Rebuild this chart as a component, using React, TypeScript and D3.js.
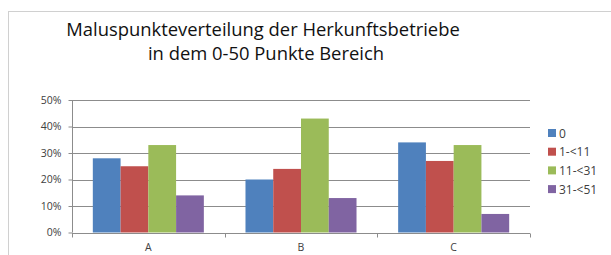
import React, { useEffect, useRef } from 'react';
import * as d3 from 'd3';

const categories = ['A', 'B', 'C'];
const seriesNames = ['0', '1-<11', '11-<31', '31-<51'];
const values = [
  [28, 25, 33, 14], // A
  [20, 24, 43, 13], // B
  [34, 27, 33, 7],  // C
];
const yTicks = [0, 10, 20, 30, 40, 50];
const colors = ['#4F81BD', '#C0504D', '#9BBB59', '#8064A2'];

const width = 611;
const height = 255;
const font = "'Open Sans', 'Noto Sans', sans-serif";

function App() {
  const ref = useRef<SVGSVGElement>(null);

  useEffect(() => {
    const svg = d3.select(ref.current);
    svg.selectAll('*').remove();

    // frame
    svg.append('rect').attr('width', width).attr('height', height).attr('fill', '#fff');
    svg.append('rect')
      .attr('x', 8.5).attr('y', 11.5)
      .attr('width', width + 10).attr('height', height + 10)
      .attr('fill', '#fff').attr('stroke', '#d0d0d0');

    const title = svg.append('text')
      .attr('text-anchor', 'middle')
      .attr('font-family', font)
      .attr('font-size', 18.4)
      .attr('fill', '#111');
    title.append('tspan').attr('x', 263).attr('y', 36).text('Maluspunkteverteilung der Herkunftsbetriebe');
    title.append('tspan').attr('x', 266).attr('y', 60).text('in dem 0-50 Punkte Bereich');

    const left = 72, right = 530, top = 100, bottom = 232.5;

    const x = d3.scaleBand().domain(categories).range([left, right]);
    // Excel gap width 150%: bar = band / (4 + 1.5)
    const bw = x.bandwidth() / 5.5;
    const x1 = d3.scaleBand().domain(seriesNames)
      .range([bw * 0.75, bw * 0.75 + bw * 4]).padding(0);

    const y = d3.scaleLinear().domain([0, 50]).range([bottom, top]);

    // gridlines
    svg.append('g')
      .selectAll('line')
      .data(yTicks.slice(1))
      .join('line')
      .attr('x1', left).attr('x2', right)
      .attr('y1', d => Math.round(y(d)) + 0.5).attr('y2', d => Math.round(y(d)) + 0.5)
      .attr('stroke', '#8c8c8c').attr('stroke-width', 1);

    // bars
    svg.append('g')
      .selectAll('g')
      .data(values)
      .join('g')
      .attr('transform', (d, i) => `translate(${x(categories[i])},0)`)
      .selectAll('rect')
      .data(d => d.map((v, j) => ({ v, j })))
      .join('rect')
      .attr('x', d => x1(seriesNames[d.j])!)
      .attr('width', x1.bandwidth())
      .attr('y', d => y(d.v))
      .attr('height', d => y(0) - y(d.v))
      .attr('fill', d => colors[d.j]);

    // y axis
    const yAxis = svg.append('g')
      .attr('transform', `translate(${left + 0.5},0)`)
      .call(d3.axisLeft(y).tickValues(yTicks).tickSize(4).tickFormat(d => `${d}%`));
    yAxis.select('.domain').attr('stroke', '#8c8c8c').attr('d', `M0,${top}V${bottom}`);
    yAxis.selectAll('.tick line').attr('stroke', '#8c8c8c');
    yAxis.selectAll('.tick text')
      .attr('font-family', font).attr('font-size', 10.5).attr('fill', '#404040').attr('x', -11);

    // x axis
    const xAxis = svg.append('g').attr('transform', `translate(0,${Math.round(bottom) + 0.5})`);
    xAxis.append('line').attr('x1', left).attr('x2', right).attr('stroke', '#8c8c8c');
    xAxis.selectAll('line.tk')
      .data([...categories.map(c => x(c)!), right])
      .join('line')
      .attr('class', 'tk')
      .attr('x1', d => Math.round(d) + 0.5).attr('x2', d => Math.round(d) + 0.5)
      .attr('y1', 0).attr('y2', 4)
      .attr('stroke', '#8c8c8c');
    xAxis.selectAll('text')
      .data(categories)
      .join('text')
      .attr('x', d => x(d)! + x.bandwidth() / 2)
      .attr('y', 17.5)
      .attr('text-anchor', 'middle')
      .attr('font-family', font).attr('font-size', 10.5).attr('fill', '#404040')
      .text(d => d);

    // legend
    const legend = svg.append('g')
      .selectAll('g')
      .data(seriesNames)
      .join('g')
      .attr('transform', (d, i) => `translate(548,${133 + i * 18.7})`);
    legend.append('rect')
      .attr('x', 0).attr('y', -4).attr('width', 8).attr('height', 8)
      .attr('fill', (d, i) => colors[i]);
    legend.append('text')
      .attr('x', 11).attr('y', 4.5)
      .attr('font-family', font).attr('font-size', 12).attr('fill', '#404040')
      .text(d => d);
  }, []);

  return (
    <svg ref={ref} width={width} height={height}
      style={{ position: 'absolute', left: 0, top: 0, display: 'block' }} />
  );
}

export default App;
